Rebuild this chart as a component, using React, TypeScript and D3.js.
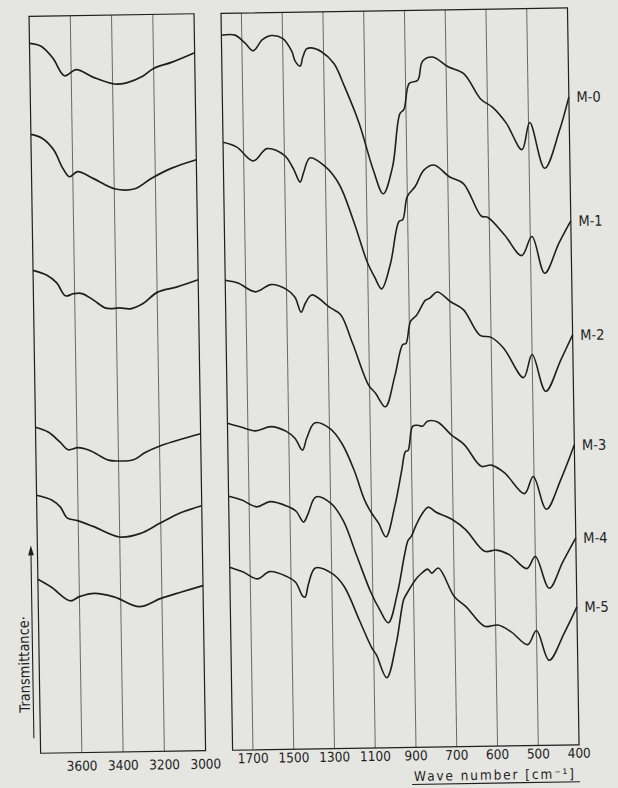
import React from 'react';
import * as d3 from 'd3';

// IR spectra of samples M-0 ... M-5, two wavenumber ranges (cm-1)
// values: transmittance in arbitrary units, curves stacked with their offset

const sampleNames = ['M-0', 'M-1', 'M-2', 'M-3', 'M-4', 'M-5'];
const hiTicks = [3600, 3400, 3200, 3000];
const loTicks = [1700, 1500, 1300, 1100, 900, 700, 600, 500, 400];

// 3800 - 3000 cm-1
const m0Hi: [number, number][] = [[3800, 71.1], [3744, 70.8], [3688, 69.6], [3632, 67.8], [3575, 68.4], [3492, 67.6], [3392, 66.9], [3332, 67.0], [3256, 67.6], [3200, 68.4], [3110, 69.0], [3000, 69.9]];
const m1Hi: [number, number][] = [[3800, 62.0], [3746, 61.6], [3690, 60.4], [3649, 58.6], [3616, 57.7], [3576, 58.2], [3502, 57.5], [3395, 56.4], [3300, 56.4], [3220, 57.4], [3120, 58.4], [3000, 59.2]];
const m2Hi: [number, number][] = [[3800, 48.4], [3735, 47.9], [3686, 47.1], [3645, 45.8], [3605, 46.0], [3564, 46.0], [3507, 45.3], [3449, 44.5], [3382, 44.5], [3331, 44.4], [3269, 44.9], [3200, 46.0], [3106, 46.5], [3000, 47.2]];
const m3Hi: [number, number][] = [[3800, 32.7], [3739, 32.2], [3683, 31.2], [3643, 30.4], [3595, 30.6], [3538, 30.3], [3449, 29.3], [3400, 29.2], [3327, 29.3], [3270, 30.0], [3189, 30.7], [3091, 31.3], [3000, 31.8]];
const m4Hi: [number, number][] = [[3800, 25.9], [3727, 25.4], [3686, 24.7], [3654, 23.6], [3603, 23.3], [3528, 22.7], [3400, 21.6], [3302, 21.9], [3205, 22.9], [3106, 23.9], [3000, 24.6]];
const m5Hi: [number, number][] = [[3800, 17.5], [3736, 16.7], [3645, 15.3], [3600, 15.7], [3527, 16.0], [3429, 15.6], [3310, 14.6], [3205, 15.4], [3105, 16.0], [3000, 16.6]];

// 1800 - 400 cm-1
const m0Lo: [number, number][] = [[1800, 71.6], [1733, 71.6], [1685, 70.8], [1645, 70.0], [1599, 71.1], [1556, 71.5], [1500, 71.2], [1456, 69.9], [1440, 68.9], [1416, 68.4], [1402, 69.3], [1383, 70.1], [1358, 70.2], [1310, 69.8], [1250, 68.6], [1200, 66.3], [1131, 62.6], [1065, 57.9], [1018, 55.5], [970, 58.2], [930, 63.5], [910, 63.9], [882, 66.5], [840, 66.8], [815, 68.7], [765, 69.1], [695, 68.1], [657, 67.4], [616, 64.8], [588, 64.0], [555, 62.4], [517, 59.7], [497, 62.4], [462, 57.8], [424, 61.6], [400, 64.9]];
const m1Lo: [number, number][] = [[1800, 60.9], [1733, 60.4], [1653, 59.0], [1585, 60.2], [1500, 59.5], [1458, 58.2], [1425, 56.8], [1408, 57.7], [1375, 59.2], [1300, 58.3], [1233, 56.5], [1167, 52.9], [1100, 48.6], [1067, 47.2], [1033, 46.0], [988, 48.5], [943, 52.7], [924, 52.9], [900, 55.2], [860, 56.2], [817, 57.8], [767, 58.3], [696, 57.1], [662, 56.4], [619, 53.1], [604, 53.0], [563, 51.2], [522, 49.1], [496, 51.0], [466, 47.3], [430, 50.3], [400, 52.5]];
const m2Lo: [number, number][] = [[1800, 47.1], [1738, 46.8], [1652, 45.9], [1576, 46.6], [1500, 46.1], [1459, 45.3], [1430, 43.8], [1408, 44.7], [1376, 45.5], [1287, 44.2], [1237, 43.5], [1180, 40.6], [1105, 36.4], [1072, 35.6], [1024, 34.2], [976, 37.2], [934, 40.4], [918, 40.5], [894, 42.7], [864, 43.3], [819, 44.8], [798, 45.0], [760, 45.6], [698, 44.6], [667, 43.8], [627, 41.2], [601, 41.0], [570, 39.9], [522, 36.9], [500, 39.2], [468, 35.5], [430, 38.6], [400, 41.1]];
const m3Lo: [number, number][] = [[1800, 32.8], [1735, 32.4], [1662, 32.0], [1587, 32.4], [1512, 31.9], [1470, 31.2], [1434, 30.0], [1412, 31.2], [1372, 32.7], [1297, 32.1], [1240, 30.6], [1182, 27.9], [1133, 24.9], [1100, 23.6], [1067, 22.6], [1031, 21.2], [986, 24.2], [948, 27.9], [929, 29.7], [916, 29.8], [892, 32.2], [867, 32.3], [843, 32.2], [818, 32.7], [769, 32.6], [703, 31.3], [670, 30.3], [629, 28.1], [604, 28.2], [572, 27.4], [524, 25.3], [502, 27.0], [471, 23.7], [435, 26.6], [400, 30.1]];
const m4Lo: [number, number][] = [[1800, 25.5], [1735, 25.1], [1662, 24.4], [1597, 24.9], [1512, 24.4], [1470, 23.9], [1434, 22.8], [1412, 23.6], [1372, 25.3], [1297, 24.6], [1240, 22.9], [1175, 19.3], [1108, 15.6], [1067, 13.9], [1026, 12.6], [980, 15.5], [940, 19.5], [923, 20.8], [907, 21.2], [883, 22.3], [850, 23.5], [821, 24.1], [785, 23.6], [703, 22.8], [670, 21.8], [624, 19.6], [596, 19.7], [563, 19.2], [521, 17.8], [500, 19.0], [467, 15.8], [433, 18.4], [400, 20.8]];
const m5Lo: [number, number][] = [[1800, 18.4], [1734, 17.9], [1665, 17.2], [1604, 17.9], [1522, 17.4], [1478, 16.8], [1444, 15.4], [1432, 15.3], [1415, 16.6], [1380, 18.2], [1297, 17.6], [1240, 16.3], [1168, 12.9], [1111, 10.2], [1087, 9.4], [1038, 7.1], [989, 10.5], [949, 14.9], [933, 15.5], [884, 17.0], [859, 17.5], [829, 17.9], [809, 17.5], [776, 18.0], [700, 15.1], [672, 14.1], [627, 12.1], [594, 12.2], [562, 11.5], [522, 10.2], [500, 11.6], [470, 8.6], [432, 11.3], [400, 13.9]];

const hiSeries = [m0Hi, m1Hi, m2Hi, m3Hi, m4Hi, m5Hi];
const loSeries = [m0Lo, m1Lo, m2Lo, m3Lo, m4Lo, m5Lo];

const W = 618;
const H = 788;
const paper = '#e5e5e2';
const ink = '#1f1f1f';
const font = '"DejaVu Sans", "Liberation Sans", sans-serif';

export default function App() {
  // frame edges
  const top = 12;
  const bottom = 749;

  const xHi = d3.scaleLinear().domain([3800, 3000]).range([35, 200]);
  // chart paper changes scale at 700 cm-1
  const xLo = d3.scaleLinear().domain([1800, 700, 400]).range([227, 451.2, 573.5]);
  const y = d3.scaleLinear().domain([0, 74]).range([750, 10]);

  const lineHi = d3.line<[number, number]>()
    .x(d => xHi(d[0]))
    .y(d => y(d[1]))
    .curve(d3.curveCatmullRom.alpha(0.5));
  const lineLo = d3.line<[number, number]>()
    .x(d => xLo(d[0]))
    .y(d => y(d[1]))
    .curve(d3.curveCatmullRom.alpha(0.5));

  const [hx0, hx1] = xHi.range();
  const lx0 = xLo(1800);
  const lx1 = xLo(400);

  return (
    <svg
      width={W}
      height={H}
      style={{ position: 'fixed', left: 0, top: 0, background: paper }}
    >
      <rect x={0} y={0} width={W} height={H} fill={paper} />
      <g transform="rotate(-0.9 309 394)">
        {/* gridlines */}
        {hiTicks.slice(0, -1).map(t => (
          <line key={'gh' + t} x1={xHi(t)} x2={xHi(t)} y1={top} y2={bottom} stroke="#4a4a4a" strokeWidth={0.8} />
        ))}
        {loTicks.slice(0, -1).map(t => (
          <line key={'gl' + t} x1={xLo(t)} x2={xLo(t)} y1={top} y2={bottom} stroke="#4a4a4a" strokeWidth={0.8} />
        ))}

        {/* frames */}
        <rect x={hx0} y={top} width={hx1 - hx0} height={bottom - top} fill="none" stroke={ink} strokeWidth={1.2} />
        <rect x={lx0} y={top} width={lx1 - lx0} height={bottom - top} fill="none" stroke={ink} strokeWidth={1.2} />

        {/* spectra */}
        {hiSeries.map((s, i) => (
          <path key={'h' + i} d={lineHi(s) || ''} fill="none" stroke={ink} strokeWidth={1.7} strokeLinejoin="round" />
        ))}
        {loSeries.map((s, i) => (
          <path key={'l' + i} d={lineLo(s) || ''} fill="none" stroke={ink} strokeWidth={1.6} strokeLinejoin="round" />
        ))}

        {/* sample labels */}
        {loSeries.map((s, i) => (
          <text
            key={'n' + i}
            x={lx1 + 7.5}
            y={y(s[s.length - 1][1])}
            dy="0.36em"
            fontFamily={font}
            fontStretch="condensed"
            fontSize={14.5}
            fill={ink}
          >
            {sampleNames[i]}
          </text>
        ))}

        {/* tick labels */}
        {hiTicks.map(t => (
          <text key={'th' + t} x={xHi(t)} y={767} textAnchor="middle" fontFamily={font} fontStretch="condensed" fontSize={13.5} fill={ink}>
            {t}
          </text>
        ))}
        {loTicks.map(t => (
          <text key={'tl' + t} x={xLo(t)} y={762} textAnchor="middle" fontFamily={font} fontStretch="condensed" fontSize={13.5} fill={ink}>
            {t}
          </text>
        ))}

        {/* axis title */}
        <text x={408} y={782.5} fontFamily={font} fontStretch="condensed" fontSize={13.5} fill={ink} textLength={160} lengthAdjust="spacing">
          Wave number [cm⁻¹]
        </text>
        <line x1={406} x2={574} y1={786} y2={786} stroke={ink} strokeWidth={1.1} />

        {/* transmittance arrow */}
        <line x1={28.5} x2={28.5} y1={734} y2={548} stroke={ink} strokeWidth={1.1} />
        <path d="M28.5,541 L25.6,551 L31.4,551 Z" fill={ink} />
        <text
          transform="translate(25,708) rotate(-90)"
          fontFamily={font}
          fontStretch="condensed"
          fontSize={14.5}
          fill={ink}
        >
          Transmittance·
        </text>
      </g>
    </svg>
  );
}
